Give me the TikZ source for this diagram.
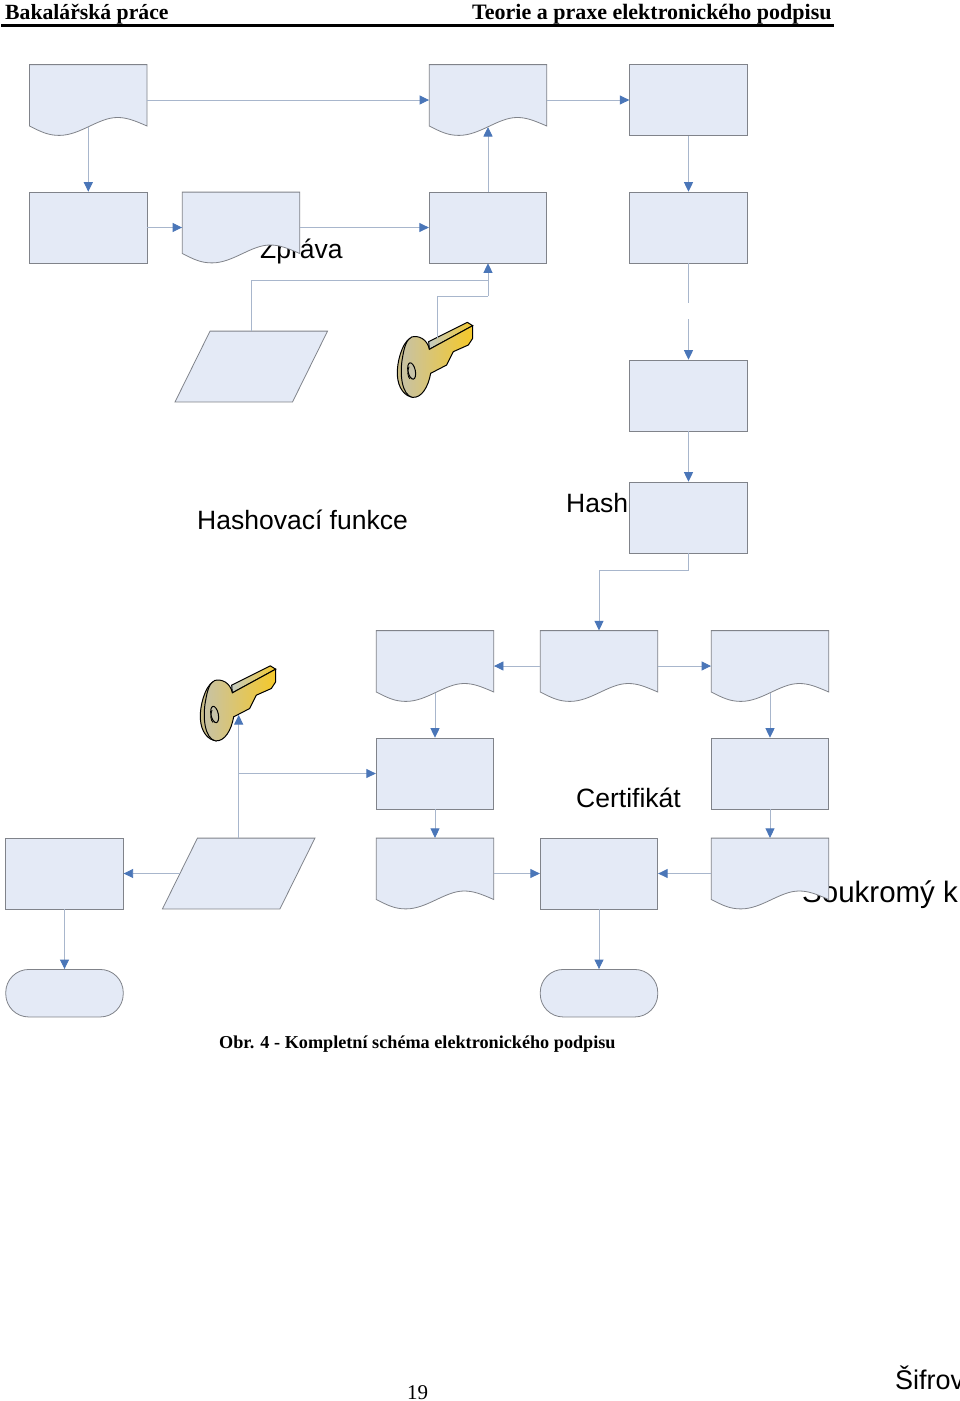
\documentclass[tikz,border=0pt]{standalone}
\usepackage{fontspec}
\setmainfont{Liberation Serif}
\newfontfamily\labelfont{Liberation Sans}
\usetikzlibrary{arrows.meta}
\definecolor{boxfill}{HTML}{E4EAF6}
\definecolor{boxedge}{HTML}{80838A}
\definecolor{linkline}{HTML}{A8B6CC}
\definecolor{linktip}{HTML}{4A76B8}
\definecolor{keyrim}{HTML}{C9BC85}
\definecolor{keygrey}{HTML}{C6C2A8}
\definecolor{keygold}{HTML}{F5C92A}
\definecolor{keystrip}{HTML}{C4CCC4}
\tikzset{
  x=1pt,y=-1pt,
  shapeedge/.style={fill=boxfill,draw=boxedge,line width=0.8pt,line join=miter},
  flowbox/.style={shapeedge,rectangle,inner sep=0pt,minimum width=117.5pt,minimum height=70.8pt},
  hollowbox/.style={rectangle,inner sep=0pt,minimum width=117.5pt,minimum height=70.8pt},
  terminal/.style={shapeedge,rectangle,rounded corners=23pt,inner sep=0pt,minimum width=117.5pt,minimum height=47.5pt},
  link/.style={draw=linkline,line width=0.9pt,-{Triangle[length=9.5pt,width=9pt,color=linktip]}},
  plainlink/.style={draw=linkline,line width=0.9pt},
  diagramlabel/.style={font=\labelfont\fontsize{26.5}{26.5}\selectfont,anchor=base west,inner sep=0pt,text=black},
  pagetext/.style={font=\bfseries\fontsize{21.7}{21.7}\selectfont,anchor=base west,inner sep=0pt,text=black},
  keyglyph/.pic={
    % rear rim of the bow
    \path[fill=keyrim,draw=black,line width=1pt]
      (750,295) .. controls (725,310) and (710,370) .. (712,405)
      .. controls (714,445) and (735,470) .. (760,472) -- (790,440) -- (790,320) -- cycle;
    % upper face of the blade
    \path[left color=keystrip,right color=keygold,draw=black,line width=1pt]
      (806,305) -- (922,247) -- (938,257) -- (808,328) -- cycle;
    % front face of bow and blade
    \path[left color=keygrey,right color=keygold,draw=black,line width=1pt]
      (755,291) .. controls (775,285) and (802,297) .. (808,328)
      -- (938,257) -- (938,295) -- (925,315) -- (880,335) -- (860,375) -- (812,400)
      .. controls (805,440) and (785,475) .. (757,472)
      .. controls (725,465) and (718,400) .. (728,350)
      .. controls (733,320) and (740,298) .. (755,291) -- cycle;
    % hole of the bow
    \path[fill=keygrey,draw=black,line width=1pt]
      (755,393) ellipse[x radius=11,y radius=25,rotate=12];
    \path[draw=black,line width=0.8pt] (747,380) .. controls (741,395) and (743,410) .. (750,417);
  }
}
% document symbol: a named box with a wavy lower edge, and a coordinate on the wave
\newcommand{\docshape}[3]{%
  \path[shapeedge] (#2-58.75,#3-35.4) -- (#2+58.75,#3-35.4) -- (#2+58.75,#3+26)
    .. controls (#2+45,#3+20) and (#2+38,#3+17.5) .. (#2+29,#3+17.5)
    .. controls (#2+10,#3+17.5) and (#2-8,#3+35.4) .. (#2-29,#3+35.4)
    .. controls (#2-40,#3+35.4) and (#2-47,#3+32) .. (#2-58.75,#3+26) -- cycle;
  \node[hollowbox] (#1) at (#2,#3) {};
  \coordinate (#1wave) at (#2,#3+27);
}
% skewed input symbol with a named box of the same mid-height span
\newcommand{\skewshape}[3]{%
  \path[shapeedge] (#2-41.25,#3-35.4) -- (#2+76.25,#3-35.4) -- (#2+41.25,#3+35.4) -- (#2-76.25,#3+35.4) -- cycle;
  \node[hollowbox] (#1) at (#2,#3) {};
}
\begin{document}
\begin{tikzpicture}
\clip (0,0) rectangle (960,1401);
\fill[white] (0,0) rectangle (960,1401);

% running head
\node[pagetext] (headleft) at (5,19) {Bakalářská práce};
\node[pagetext,font=\bfseries\fontsize{22}{22}\selectfont] (headright) at (472,19) {Teorie a praxe elektronického podpisu};
\fill[black] (1,24.2) rectangle (834,27);

% labels lying beneath the symbols
\node[diagramlabel] (lblzprava) at (260,258) {Zpráva};
\node[diagramlabel] (lblfunkce) at (197,529) {Hashovací funkce};
\node[diagramlabel] (lblhash) at (566,512) {Hash};
\node[diagramlabel] (lblcert) at (576,807) {Certifikát};
\node[diagramlabel,font=\labelfont\fontsize{29.5}{29.5}\selectfont] (lblklic) at (802,902) {Soukromý k};
\node[diagramlabel,font=\labelfont\fontsize{27}{27}\selectfont] (lblsifra) at (895,1389) {Šifrov};

% signing side
\docshape{da}{88.3}{100}
\docshape{db}{488}{100}
\node[flowbox] (ra) at (688.5,100) {};
\node[flowbox] (rb) at (88.3,227.5) {};
\docshape{dc}{241}{227.5}
\node[flowbox] (rc) at (488,227.5) {};
\node[flowbox] (rd) at (688.5,227.5) {};
\skewshape{pa}{251.3}{366.5}
\pic[scale=0.33333] at (160,240) {keyglyph};
\coordinate (keyastem) at (437.7,296);
\coordinate (keyaout) at (437.7,338);
\coordinate (joina) at (488,280);
\coordinate (joinb) at (488,296);
\node[flowbox] (re) at (688.5,395.5) {};
\node[flowbox] (rf) at (688.5,517.5) {};
\coordinate (breaktop) at (688.5,303);
\coordinate (breakbottom) at (688.5,319);

% verification side
\docshape{dd}{435}{666}
\docshape{de}{599}{666}
\docshape{df}{770}{666}
\node[flowbox] (rg) at (435,773.5) {};
\node[flowbox] (rh) at (770,773.5) {};
\node[flowbox] (ri) at (64.5,873.5) {};
\skewshape{pb}{238.7}{873.5}
\docshape{dg}{435}{873.5}
\node[flowbox] (rj) at (599,873.5) {};
\docshape{dh}{770}{873.5}
\node[terminal] (ta) at (64.5,993.2) {};
\node[terminal] (tb) at (599,993.2) {};
\pic[scale=0.33333] at (-37,583.5) {keyglyph};
\coordinate (keybin) at (238.7,715);
\coordinate (branch) at (238.7,773.5);

% connectors, upper part
\draw[link] (da.east) -- (db.west);
\draw[link] (db.east) -- (ra.west);
\draw[link] (dawave) -- (rb.north);
\draw[link] (rb.east) -- (dc.west);
\draw[link] (dc.east) -- (rc.west);
\draw[link] (rc.north) -- (dbwave);
\draw[link] (ra.south) -- (rd.north);
\draw[plainlink] (pa.north) |- (joina);
\draw[plainlink] (keyaout) -- (keyastem) -- (joinb);
\draw[link] (joinb) -- (rc.south);
\draw[plainlink] (rd.south) -- (breaktop);
\draw[link] (breakbottom) -- (re.north);
\draw[link] (re.south) -- (rf.north);
\draw[link] (rf.south) -- ++(0,17) -| (de.north);

% connectors, lower part
\draw[link] (de.west) -- (dd.east);
\draw[link] (de.east) -- (df.west);
\draw[link] (ddwave) -- (rg.north);
\draw[link] (dfwave) -- (rh.north);
\draw[link] (rg.south) -- (dg.north);
\draw[link] (rh.south) -- (dh.north);
\draw[link] (dg.east) -- (rj.west);
\draw[link] (dh.west) -- (rj.east);
\draw[link] (pb.west) -- (ri.east);
\draw[link] (pb.north) -- (keybin);
\draw[link] (branch) -- (rg.west);
\draw[link] (ri.south) -- (ta.north);
\draw[link] (rj.south) -- (tb.north);

% caption and folio
\node[pagetext,font=\bfseries\fontsize{18.2}{18.2}\selectfont] (caption) at (219,1048) {Obr. 4 - Kompletní schéma elektronického podpisu};
\node[pagetext,font=\fontsize{21}{21}\selectfont] (folio) at (407,1399) {19};
\end{tikzpicture}
\end{document}
